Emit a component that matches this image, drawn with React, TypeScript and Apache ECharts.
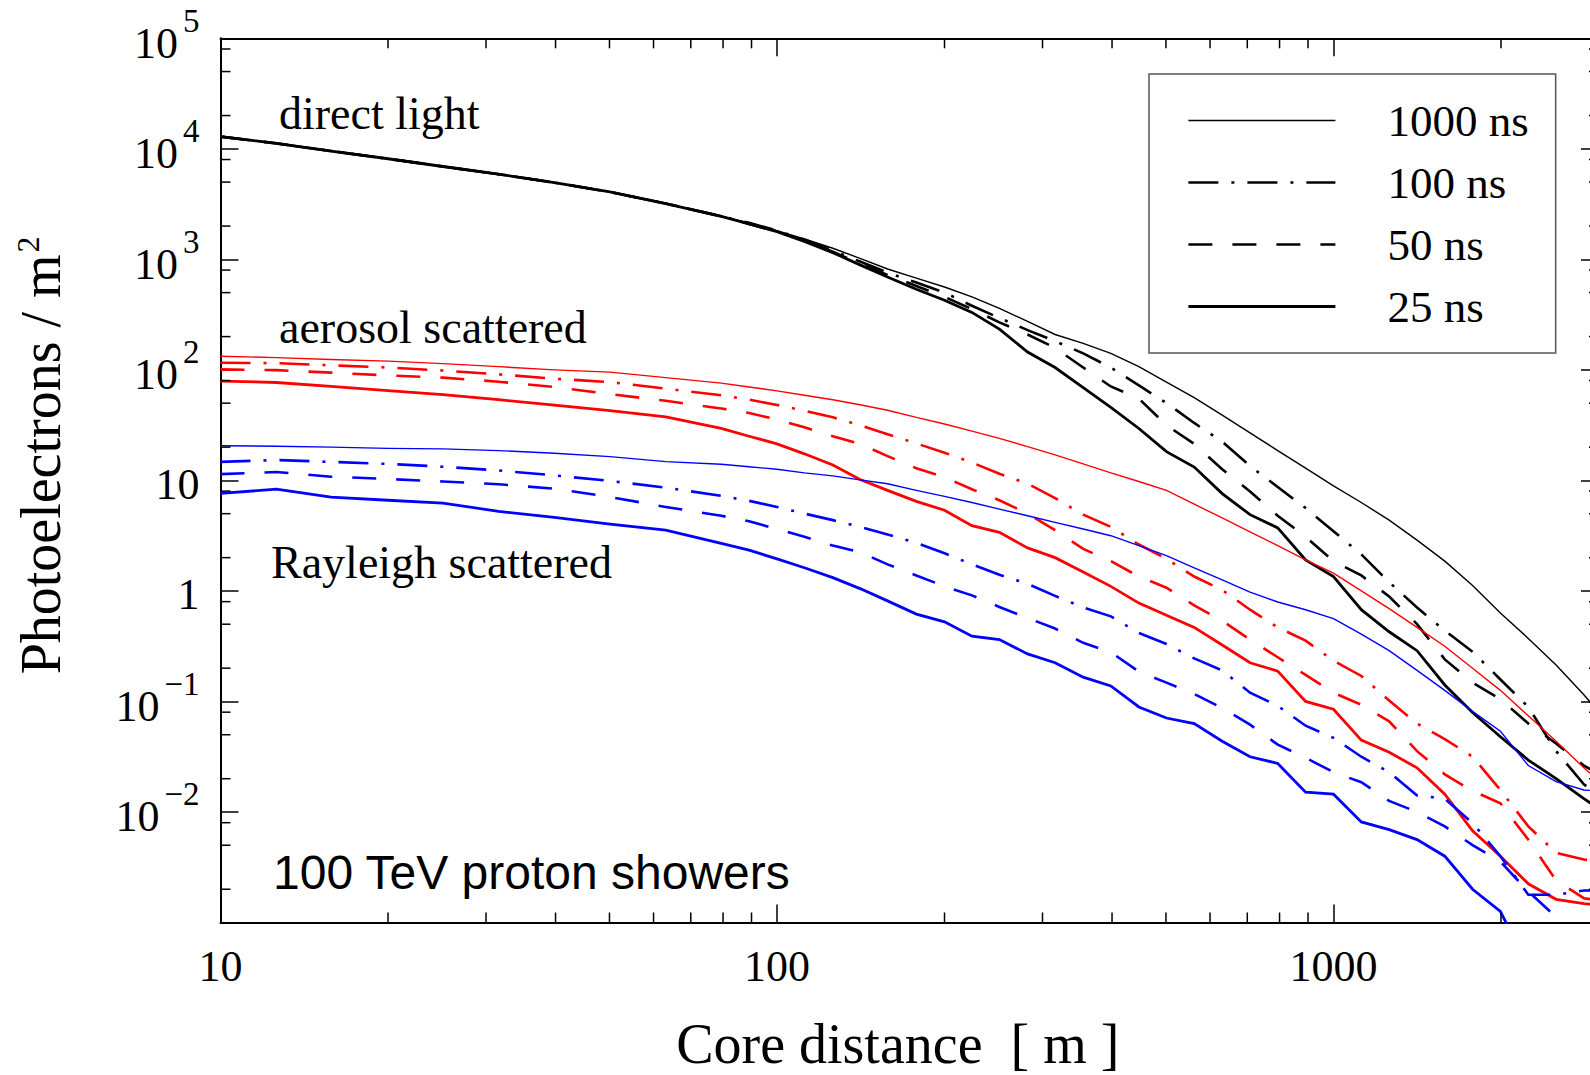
import React, { useEffect, useRef } from 'react';
import * as echarts from 'echarts';

// Core distance [m] (sample positions along the curves)
const coreDistance = [10, 12.6, 15.8, 20.0, 25.1, 31.6, 39.8, 50.1, 63.1, 79.4, 89.1, 100, 112, 126, 141, 158, 178, 200, 224, 251, 282, 316, 355, 398, 447, 501, 562, 631, 708, 794, 891, 1000, 1122, 1259, 1413, 1585, 1778, 1995, 2239, 2512, 2818, 3000];

// direct light (black)
const direct1000 = [12900, 11200, 9550, 8130, 6920, 5890, 4950, 4070, 3200, 2450, 2140, 1820, 1530, 1260, 1020, 818, 676, 562, 457, 360, 275, 209, 174, 141, 107, 77.6, 56.2, 38.9, 26.9, 18.6, 12.9, 8.91, 6.31, 4.37, 2.88, 1.86, 1.12, 0.631, 0.372, 0.214, 0.115, 0.0794];
const direct100 = [12900, 11200, 9550, 8130, 6920, 5890, 4950, 4070, 3200, 2450, 2140, 1820, 1510, 1200, 955, 759, 617, 501, 380, 295, 229, 182, 141, 105, 72.4, 50.1, 33.1, 22.4, 13.5, 8.71, 5.62, 3.47, 2.14, 1.2, 0.708, 0.437, 0.282, 0.158, 0.0891, 0.0355, 0.0178, 0.0141];
const direct50 = [12900, 11200, 9550, 8130, 6920, 5890, 4950, 4070, 3200, 2450, 2090, 1780, 1480, 1170, 912, 724, 575, 457, 355, 269, 209, 158, 105, 70.8, 55.0, 31.6, 21.4, 12.6, 7.94, 4.79, 3.09, 1.86, 1.38, 0.891, 0.501, 0.24, 0.148, 0.105, 0.0631, 0.0417, 0.0263, 0.0219];
const direct25 = [12900, 11200, 9550, 8130, 6920, 5890, 4950, 4070, 3200, 2450, 2090, 1780, 1450, 1150, 891, 692, 537, 427, 331, 234, 145, 105, 69.2, 45.7, 29.5, 18.2, 13.2, 7.59, 4.9, 3.72, 1.91, 1.35, 0.676, 0.427, 0.288, 0.141, 0.0794, 0.0479, 0.0295, 0.02, 0.0132, 0.0107];

// aerosol scattered (red)
const aerosol1000 = [133, 129, 124, 120, 114, 107, 100, 95.5, 85.1, 75.9, 70.0, 64.6, 58.9, 53.7, 48.4, 43.1, 37.2, 32.4, 27.9, 24.0, 20.2, 17.0, 14.1, 11.7, 9.77, 8.13, 6.1, 4.57, 3.43, 2.57, 1.91, 1.45, 1.0, 0.692, 0.468, 0.316, 0.2, 0.126, 0.0741, 0.0437, 0.0251, 0.0191];
const aerosol100 = [116, 115, 110, 105, 98.6, 91.2, 83.2, 77.6, 67.6, 58.9, 53.7, 48.2, 42.7, 37.2, 31.6, 26.2, 21.6, 17.8, 14.5, 11.5, 9.33, 6.92, 4.9, 3.8, 2.63, 1.95, 1.35, 1.02, 0.676, 0.468, 0.355, 0.234, 0.17, 0.102, 0.0631, 0.0457, 0.0316, 0.0158, 0.00741, 0.00427, 0.00372, 0.00355];
const aerosol50 = [101, 99.5, 94.4, 89.1, 85.1, 78.2, 70.0, 60.3, 52.5, 44.7, 40.7, 35.5, 30.2, 25.1, 21.4, 16.6, 12.9, 10.7, 8.32, 6.61, 5.01, 3.55, 2.4, 1.86, 1.35, 1.07, 0.741, 0.537, 0.363, 0.251, 0.174, 0.12, 0.0933, 0.0661, 0.0355, 0.0219, 0.0155, 0.012, 0.00562, 0.0024, 0.00166, 0.00158];
const aerosol25 = [79.2, 76.9, 70.8, 64.9, 59.6, 53.7, 47.9, 42.7, 37.6, 29.5, 25.1, 21.4, 17.4, 13.8, 10.2, 8.13, 6.46, 5.37, 3.89, 3.39, 2.45, 2.0, 1.48, 1.1, 0.776, 0.603, 0.468, 0.324, 0.224, 0.188, 0.1, 0.0851, 0.0447, 0.0347, 0.0251, 0.0145, 0.00676, 0.00398, 0.00224, 0.00162, 0.00148, 0.00145];

// Rayleigh scattered (blue)
const rayleigh1000 = [20.6, 20.4, 20.0, 19.5, 19.3, 18.6, 17.6, 16.4, 14.8, 14.0, 13.3, 12.6, 11.7, 11.0, 10.1, 9.33, 8.13, 7.16, 6.31, 5.5, 4.79, 4.17, 3.63, 3.16, 2.57, 2.09, 1.62, 1.26, 0.977, 0.794, 0.676, 0.562, 0.407, 0.288, 0.191, 0.126, 0.0813, 0.0537, 0.0263, 0.0188, 0.0158, 0.0155];
const rayleigh100 = [14.7, 15.3, 14.7, 14.1, 13.3, 12.3, 11.1, 9.89, 8.61, 7.24, 6.53, 5.75, 5.01, 4.37, 3.8, 3.24, 2.72, 2.19, 1.74, 1.4, 1.16, 0.902, 0.708, 0.589, 0.417, 0.331, 0.245, 0.191, 0.12, 0.0912, 0.0603, 0.0468, 0.0316, 0.0229, 0.0141, 0.0132, 0.00794, 0.00398, 0.00178, 0.00178, 0.00195, 0.00195];
const rayleigh50 = [11.4, 11.9, 10.8, 10.3, 9.77, 9.23, 8.41, 7.08, 5.75, 4.79, 4.27, 3.63, 3.09, 2.57, 2.24, 1.74, 1.38, 1.1, 0.912, 0.716, 0.569, 0.457, 0.339, 0.279, 0.186, 0.148, 0.117, 0.0871, 0.0617, 0.0407, 0.0309, 0.0229, 0.0186, 0.0126, 0.01, 0.00741, 0.00501, 0.00355, 0.00191, 0.00112, 0.000398, null];
const rayleigh25 = [7.62, 8.32, 7.05, 6.61, 6.24, 5.25, 4.62, 4.03, 3.55, 2.69, 2.34, 1.95, 1.62, 1.32, 1.05, 0.813, 0.617, 0.525, 0.389, 0.363, 0.269, 0.224, 0.166, 0.138, 0.0891, 0.0708, 0.0631, 0.0437, 0.0316, 0.0275, 0.0151, 0.0145, 0.00813, 0.00692, 0.00562, 0.00398, 0.002, 0.00126, 0.000398, null, null, null];

const gateNames = ['1000 ns', '100 ns', '50 ns', '25 ns'];

// axis ticks
const xMajorLabels = [10, 100, 1000];
const yLabelExponents = [-2, -1, 0, 1, 2, 3, 4, 5];
const xMinorTicks = [20, 30, 40, 50, 60, 70, 80, 90, 200, 300, 400, 500, 600, 700, 800, 900, 2000, 3000];
const yMinorTicks = [0.002, 0.005, 0.008, 0.02, 0.05, 0.08, 0.2, 0.5, 0.8, 2, 5, 8, 20, 50, 80, 200, 500, 800, 2000, 5000, 8000, 20000, 50000, 80000];

const SERIF = "'Liberation Serif', 'Times New Roman', serif";
const SANS = "'Liberation Sans', Arial, sans-serif";

const gateStyle: Record<string, { width: number; type: any }> = {
  '1000 ns': { width: 1.4, type: 'solid' },
  '100 ns': { width: 2.6, type: [30, 13, 3, 13] },
  '50 ns': { width: 2.6, type: [24, 20] },
  '25 ns': { width: 2.8, type: 'solid' },
};

const groups = [
  { color: '#000000', values: [direct1000, direct100, direct50, direct25] },
  { color: '#ff0000', values: [aerosol1000, aerosol100, aerosol50, aerosol25] },
  { color: '#0000ff', values: [rayleigh1000, rayleigh100, rayleigh50, rayleigh25] },
];

function xLabel(v: number) {
  const hit = xMajorLabels.find((t) => Math.abs(Math.log10(v) - Math.log10(t)) < 1e-6);
  return hit ? String(hit) : '';
}

function yLabel(v: number) {
  const e = Math.round(Math.log10(v));
  if (!yLabelExponents.includes(e)) return '';
  if (e === 0) return '{p|1}';
  if (e === 1) return '{p|10}';
  const t = e < 0 ? '\u2212' + String(-e) : String(e);
  return '{b|10}{s|' + t + '}';
}

export default function App() {
  const ref = useRef<HTMLDivElement>(null);

  useEffect(() => {
    const chart = echarts.init(ref.current as HTMLDivElement, null, { renderer: 'svg' });

    const lineSeries: any[] = [];
    groups.forEach((g) => {
      g.values.forEach((vals, i) => {
        const name = gateNames[i];
        const st = gateStyle[name];
        lineSeries.push({
          type: 'line',
          name,
          xAxisIndex: 0,
          yAxisIndex: 0,
          data: coreDistance.map((x, k) => [x, vals[k] == null ? '-' : vals[k]]),
          symbol: 'none',
          showSymbol: false,
          clip: true,
          silent: true,
          connectNulls: false,
          emphasis: { disabled: true },
          itemStyle: { color: g.color },
          lineStyle: { color: g.color, width: st.width, type: st.type, cap: 'butt', join: 'miter' },
          z: 3,
        });
      });
    });

    const minorData: any[] = [];
    xMinorTicks.forEach((v) => minorData.push([v, 1, 0]));
    yMinorTicks.forEach((v) => minorData.push([10, v, 1]));

    const tickSeries = {
      type: 'custom',
      name: 'minor ticks',
      xAxisIndex: 0,
      yAxisIndex: 0,
      silent: true,
      clip: false,
      z: 6,
      dimensions: ['x', 'y', 'kind'],
      encode: { x: 0, y: 1 },
      data: minorData,
      renderItem: (params: any, api: any) => {
        const cs = params.coordSys;
        const left = cs.x;
        const top = cs.y;
        const right = cs.x + cs.width;
        const bottom = cs.y + cs.height;
        const L = 10;
        const style = { stroke: '#000', lineWidth: 1.5 };
        if (api.value(2) === 0) {
          const x = api.coord([api.value(0), 1])[0];
          return {
            type: 'group',
            children: [
              { type: 'line', shape: { x1: x, y1: bottom, x2: x, y2: bottom - L }, style },
              { type: 'line', shape: { x1: x, y1: top, x2: x, y2: top + L }, style },
            ],
          };
        }
        const y = api.coord([10, api.value(1)])[1];
        return {
          type: 'group',
          children: [
            { type: 'line', shape: { x1: left, y1: y, x2: left + L, y2: y }, style },
            { type: 'line', shape: { x1: right, y1: y, x2: right - L, y2: y }, style },
          ],
        };
      },
    };

    const axisLine = { show: true, onZero: false, lineStyle: { color: '#000', width: 2 } };
    const axisTick = { show: true, inside: true, length: 18, lineStyle: { color: '#000', width: 1.5 } };

    const option: any = {
      animation: false,
      backgroundColor: '#ffffff',
      grid: { left: 220.5, top: 38.3, width: 1378.5, height: 884.2, containLabel: false, outerBoundsMode: 'none' },
      xAxis: [
        {
          type: 'log',
          logBase: 10,
          min: 10,
          max: 3000,
          position: 'bottom',
          axisLine,
          axisTick,
          splitLine: { show: false },
          minorTick: { show: false },
          axisLabel: { show: true, margin: 22, color: '#000', fontFamily: SERIF, fontSize: 44, formatter: xLabel },
          name: 'Core distance  [ m ]',
          nameLocation: 'middle',
          nameGap: 93,
          nameTextStyle: { fontFamily: SERIF, fontSize: 56, lineHeight: 56, color: '#000', padding: [0, 24, 0, 0] },
        },
        {
          type: 'log',
          logBase: 10,
          min: 10,
          max: 3000,
          position: 'top',
          axisLine,
          axisTick,
          splitLine: { show: false },
          axisLabel: { show: false },
        },
      ],
      yAxis: [
        {
          type: 'log',
          logBase: 10,
          min: 0.001,
          max: 100000,
          splitNumber: 8,
          position: 'left',
          axisLine,
          axisTick,
          splitLine: { show: false },
          minorTick: { show: false },
          axisLabel: {
            show: true,
            margin: 21,
            color: '#000',
            fontFamily: SERIF,
            fontSize: 44,
            formatter: yLabel,
            rich: {
              b: { fontFamily: SERIF, fontSize: 44, lineHeight: 44, color: '#000', padding: [0, 0, 7, 0], verticalAlign: 'bottom' },
              s: { fontFamily: SERIF, fontSize: 33, lineHeight: 68, color: '#000', padding: [0, 0, 0, 5], verticalAlign: 'top' },
              p: { fontFamily: SERIF, fontSize: 44, lineHeight: 44, color: '#000', padding: [8, 0, 0, 0] },
            },
          },
          name: '{t|Photoelectrons / m}{u|2}',
          nameLocation: 'middle',
          nameGap: 152,
          nameTextStyle: {
            fontFamily: SERIF,
            fontSize: 56,
            color: '#000',
            padding: [0, 0, 0, 50],
            rich: {
              t: { fontFamily: SERIF, fontSize: 56, lineHeight: 56, color: '#000', verticalAlign: 'bottom' },
              u: { fontFamily: SERIF, fontSize: 32, lineHeight: 57, color: '#000', padding: [0, 0, 0, 2], verticalAlign: 'top' },
            },
          },
        },
        {
          type: 'log',
          logBase: 10,
          min: 0.001,
          max: 100000,
          splitNumber: 8,
          position: 'right',
          axisLine,
          axisTick,
          splitLine: { show: false },
          axisLabel: { show: false },
        },
      ],
      legend: {
        show: true,
        data: gateNames,
        orient: 'vertical',
        left: 1149,
        top: 74,
        itemWidth: 147,
        itemHeight: 20,
        itemGap: 17,
        padding: [24, 27, 24, 38],
        backgroundColor: '#ffffff',
        borderColor: '#555555',
        borderWidth: 1.5,
        borderRadius: 0,
        selectedMode: false,
        itemStyle: { color: 'rgba(0,0,0,0)', borderColor: 'rgba(0,0,0,0)', borderWidth: 0, opacity: 0 },
        lineStyle: { width: 'inherit' },
        textStyle: { fontFamily: SERIF, fontSize: 45, lineHeight: 44, color: '#000', padding: [0, 0, 0, 47] },
        z: 10,
      },
      graphic: [
        { type: 'text', x: 279, y: 113, z: 10, style: { text: 'direct light', fontFamily: SERIF, fontSize: 46, fill: '#000', align: 'left', verticalAlign: 'middle' } },
        { type: 'text', x: 279, y: 327, z: 10, style: { text: 'aerosol scattered', fontFamily: SERIF, fontSize: 46, fill: '#000', align: 'left', verticalAlign: 'middle' } },
        { type: 'text', x: 271, y: 562, z: 10, style: { text: 'Rayleigh scattered', fontFamily: SERIF, fontSize: 46, fill: '#000', align: 'left', verticalAlign: 'middle' } },
        { type: 'text', x: 273, y: 872, z: 10, style: { text: '100 TeV proton showers', fontFamily: SANS, fontSize: 48, fill: '#000', align: 'left', verticalAlign: 'middle' } },
      ],
      series: [...lineSeries, tickSeries],
    };

    chart.setOption(option);
    return () => chart.dispose();
  }, []);

  return (
    <div style={{ position: 'fixed', left: 0, top: 0, width: 1590, height: 1075, overflow: 'hidden', background: '#ffffff' }}>
      <div ref={ref} style={{ width: 1620, height: 1075 }} />
    </div>
  );
}
